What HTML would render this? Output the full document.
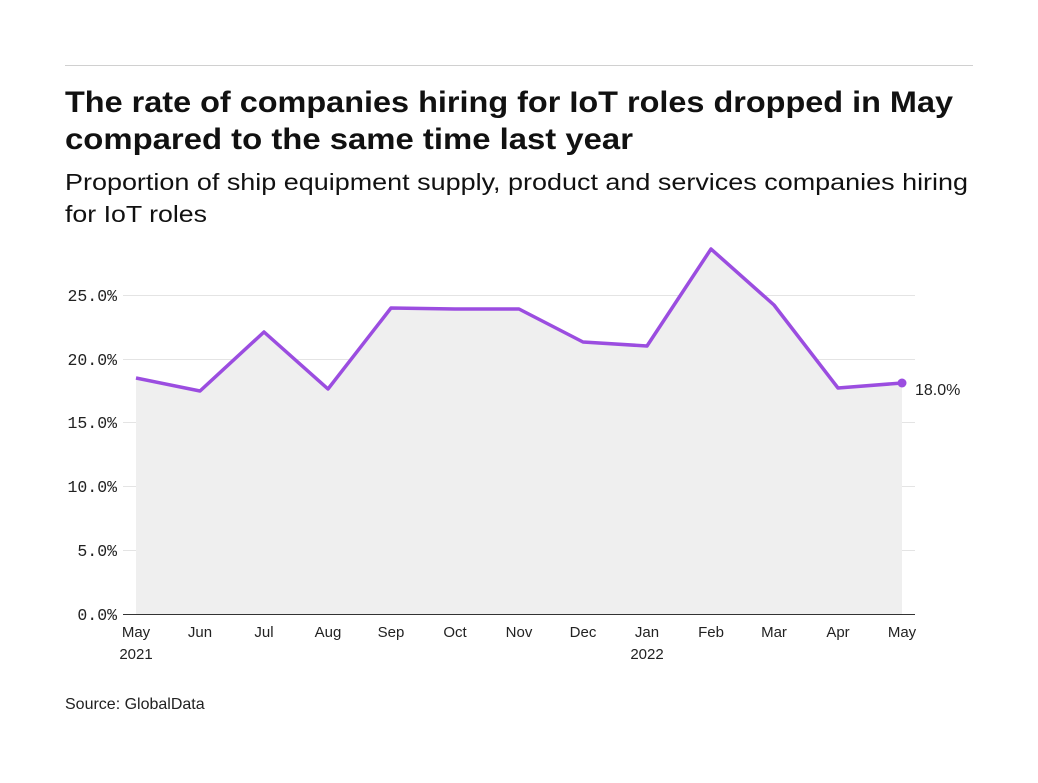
<!DOCTYPE html>
<html><head><meta charset="utf-8"><style>
body{margin:0;background:#fff;width:1038px;height:778px;overflow:hidden;font-family:"Liberation Sans",sans-serif;}
</style></head><body>
<svg width="1038" height="778" xmlns="http://www.w3.org/2000/svg">
<line x1="65" y1="65.5" x2="973" y2="65.5" stroke="#d0d0d0" stroke-width="1"/>
<text x="65" y="112" font-size="30" font-weight="bold" fill="#111" textLength="888" lengthAdjust="spacingAndGlyphs">The rate of companies hiring for IoT roles dropped in May</text>
<text x="65" y="149" font-size="30" font-weight="bold" fill="#111" textLength="568" lengthAdjust="spacingAndGlyphs">compared to the same time last year</text>
<text x="65" y="190" font-size="23.5" fill="#111" textLength="903" lengthAdjust="spacingAndGlyphs">Proportion of ship equipment supply, product and services companies hiring</text>
<text x="65" y="222" font-size="23.5" fill="#111" textLength="142" lengthAdjust="spacingAndGlyphs">for IoT roles</text>
<g stroke="#e4e4e4" stroke-width="1">
<line x1="123" y1="295.5" x2="915" y2="295.5"/>
<line x1="123" y1="359.5" x2="915" y2="359.5"/>
<line x1="123" y1="422.5" x2="915" y2="422.5"/>
<line x1="123" y1="486.5" x2="915" y2="486.5"/>
<line x1="123" y1="550.5" x2="915" y2="550.5"/>
</g>
<polygon fill="#efefef" points="136,614 136,378 200,391 264,332 328,389 391,308 455,309 519,309 583,342 647,346 711,249 774,305 838,388 902,383 902,614"/>
<line x1="123" y1="614.5" x2="915" y2="614.5" stroke="#333" stroke-width="1"/>
<polyline fill="none" stroke="#9b4de0" stroke-width="3.5" stroke-linejoin="round" points="136,378 200,391 264,332 328,389 391,308 455,309 519,309 583,342 647,346 711,249 774,305 838,388 902,383"/>
<circle cx="902" cy="383" r="4.5" fill="#9b4de0"/>
<text x="915" y="395" font-size="16" fill="#222">18.0%</text>
<g font-family="Liberation Mono,monospace" font-size="16.5" fill="#222" text-anchor="end">
<text x="117" y="301">25.0%</text>
<text x="117" y="365">20.0%</text>
<text x="117" y="428">15.0%</text>
<text x="117" y="492">10.0%</text>
<text x="117" y="556">5.0%</text>
<text x="117" y="620">0.0%</text>
</g>
<g font-size="15" fill="#222" text-anchor="middle">
<text x="136" y="637">May</text><text x="136" y="659">2021</text>
<text x="200" y="637">Jun</text>
<text x="264" y="637">Jul</text>
<text x="328" y="637">Aug</text>
<text x="391" y="637">Sep</text>
<text x="455" y="637">Oct</text>
<text x="519" y="637">Nov</text>
<text x="583" y="637">Dec</text>
<text x="647" y="637">Jan</text><text x="647" y="659">2022</text>
<text x="711" y="637">Feb</text>
<text x="774" y="637">Mar</text>
<text x="838" y="637">Apr</text>
<text x="902" y="637">May</text>
</g>
<text x="65" y="709" font-size="16" fill="#222">Source: GlobalData</text>
</svg>
</body></html>
